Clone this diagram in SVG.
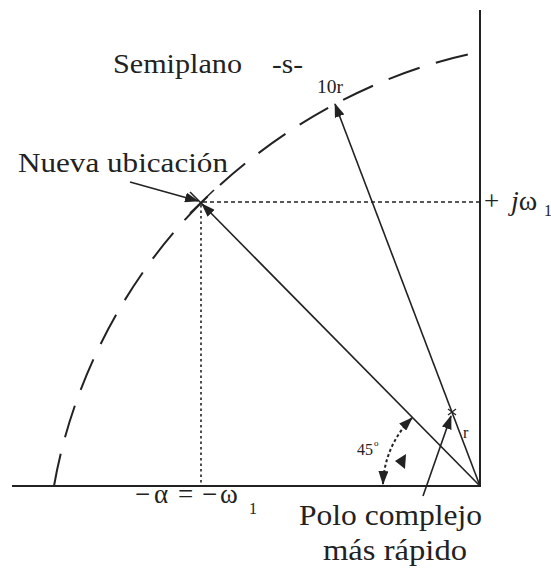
<svg xmlns="http://www.w3.org/2000/svg" width="551" height="569" viewBox="0 0 551 569">
<style>
.t{font-family:'Liberation Serif','DejaVu Serif',serif;fill:#222}
.ax{stroke:#222;stroke-width:2;fill:none}
.ln{stroke:#222;stroke-width:1.6;fill:none}
.arc{stroke:#222;stroke-width:2;fill:none;stroke-dasharray:33 17}
.dh{stroke:#222;stroke-width:1.4;fill:none;stroke-dasharray:4 3}
.dv{stroke:#222;stroke-width:1.6;fill:none;stroke-dasharray:2.5 3}
.da{stroke:#222;stroke-width:2;fill:none;stroke-dasharray:3 2.5}
</style>
<defs>
<marker id="ah" viewBox="0 0 14 10" refX="13" refY="5" markerWidth="14" markerHeight="10" markerUnits="userSpaceOnUse" orient="auto-start-reverse">
<path d="M0,0 L14,5 L0,10 Z" fill="#222"/>
</marker>
</defs>
<rect width="551" height="569" fill="#fff"/>
<g id="axes">
<line class="ax" x1="480" y1="10" x2="480" y2="487"/>
<line class="ax" x1="12" y1="486" x2="481" y2="486"/>
</g>
<g id="circle">
<path class="arc" d="M54,486 C72,382 125,279 200,204 C275,129 376,72 480,52"/>
</g>
<g id="guides">
<line class="dh" x1="203" y1="202" x2="480" y2="202"/>
<line class="dv" x1="201" y1="205" x2="201" y2="486"/>
</g>
<g id="marks">
<line class="ln" x1="190" y1="213" x2="214" y2="190"/>
<line class="ln" x1="190" y1="192" x2="210" y2="212"/>
<line stroke="#222" stroke-width="1.2" x1="448" y1="409" x2="456" y2="415"/>
<line stroke="#222" stroke-width="1.2" x1="448" y1="415" x2="456" y2="409"/>
<polygon points="395,461 406,454 405,469" fill="#222"/>
</g>
<g id="connectors">
<line class="ln" x1="480" y1="486" x2="335" y2="104" marker-end="url(#ah)"/>
<line class="ln" x1="480" y1="486" x2="202" y2="204" marker-end="url(#ah)"/>
<line class="ln" x1="130" y1="182" x2="198" y2="201" marker-end="url(#ah)"/>
<line class="ln" x1="423" y1="496" x2="451" y2="416" marker-end="url(#ah)"/>
<path class="da" d="M383,484 A97 97 0 0 1 412,418" marker-start="url(#ah)" marker-end="url(#ah)"/>
</g>
<g id="labels">
<text class="t" x="113" y="73" font-size="27" textLength="129" lengthAdjust="spacingAndGlyphs">Semiplano</text>
<text class="t" x="272" y="73" font-size="27" textLength="31" lengthAdjust="spacingAndGlyphs">-s-</text>
<text class="t" x="317" y="93" font-size="18" textLength="26" lengthAdjust="spacingAndGlyphs">10r</text>
<text class="t" x="18" y="172" font-size="28" textLength="210" lengthAdjust="spacingAndGlyphs">Nueva ubicación</text>
<text class="t" x="484" y="210" font-size="27">+</text>
<text class="t" x="511" y="210" font-size="28"><tspan font-style="italic">j</tspan>ω</text>
<text class="t" x="544" y="216" font-size="16">1</text>
<text class="t" x="357" y="455" font-size="16">45</text>
<text class="t" x="374" y="446" font-size="9">o</text>
<text class="t" x="463" y="438" font-size="16">r</text>
<text class="t" font-size="27" y="503"><tspan x="135">−</tspan><tspan x="154">α</tspan><tspan x="178">=</tspan><tspan x="202">−</tspan><tspan x="220">ω</tspan></text>
<text class="t" x="249" y="514" font-size="16">1</text>
<text class="t" x="299" y="525" font-size="29" textLength="183" lengthAdjust="spacingAndGlyphs">Polo complejo</text>
<text class="t" x="323" y="560" font-size="29" textLength="144" lengthAdjust="spacingAndGlyphs">más rápido</text>
</g>
</svg>
